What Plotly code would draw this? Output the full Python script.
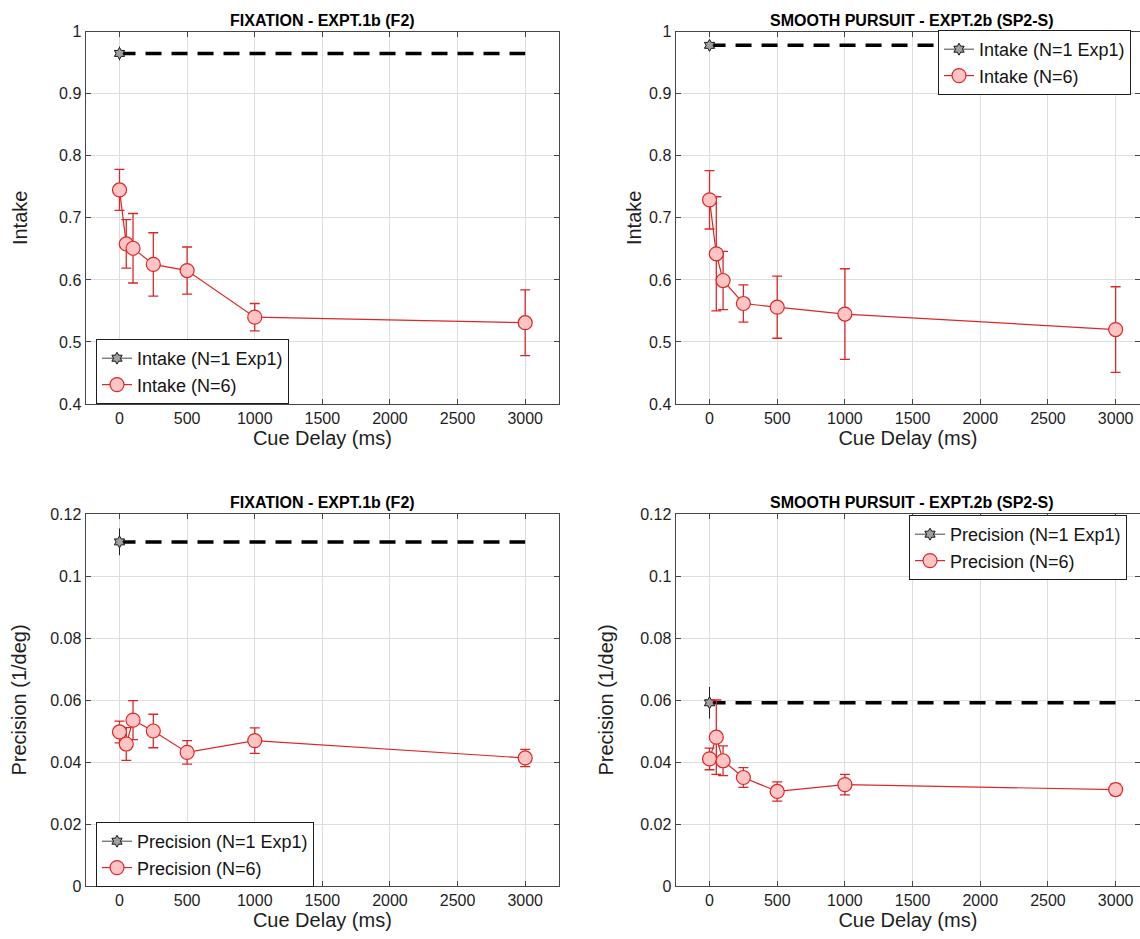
import plotly.graph_objects as go

W, H = 1140, 939

delays = [0, 50, 100, 250, 500, 1000, 3000]

# Intake - fixation
intake_fix = [0.745, 0.658, 0.651, 0.625, 0.615, 0.540, 0.531]
intake_fix_err = [0.033, 0.039, 0.056, 0.051, 0.038, 0.022, 0.053]
intake_fix_ref = 0.965
intake_fix_ref_err = 0.011

# Intake - smooth pursuit
intake_sp = [0.729, 0.642, 0.599, 0.562, 0.556, 0.545, 0.520]
intake_sp_err = [0.047, 0.092, 0.047, 0.030, 0.050, 0.073, 0.069]
intake_sp_ref = 0.978
intake_sp_ref_err = 0.005

# Precision - fixation
prec_fix = [0.0497, 0.0458, 0.0535, 0.0500, 0.0431, 0.0469, 0.0413]
prec_fix_err = [0.0035, 0.0053, 0.0063, 0.0054, 0.0038, 0.0041, 0.0028]
prec_fix_ref = 0.111
prec_fix_ref_err = 0.0043

# Precision - smooth pursuit
prec_sp = [0.0410, 0.0480, 0.0404, 0.0350, 0.0305, 0.0327, 0.0311]
prec_sp_err = [0.0035, 0.0120, 0.0048, 0.0032, 0.0031, 0.0033, 0.0018]
prec_sp_ref = 0.0591
prec_sp_ref_err = 0.0051

x_ticks = [0, 500, 1000, 1500, 2000, 2500, 3000]
x_ticktext = ["0", "500", "1000", "1500", "2000", "2500", "3000"]
intake_ticks = [0.4, 0.5, 0.6, 0.7, 0.8, 0.9, 1.0]
intake_ticktext = ["0.4", "0.5", "0.6", "0.7", "0.8", "0.9", "1"]
prec_ticks = [0, 0.02, 0.04, 0.06, 0.08, 0.1, 0.12]
prec_ticktext = ["0", "0.02", "0.04", "0.06", "0.08", "0.1", "0.12"]

titles = ["FIXATION - EXPT.1b (F2)", "SMOOTH PURSUIT - EXPT.2b (SP2-S)",
          "FIXATION - EXPT.1b (F2)", "SMOOTH PURSUIT - EXPT.2b (SP2-S)"]

RED = "rgb(222,38,38)"
PINK = "rgb(255,196,196)"
FONT = "Liberation Sans, Arial, sans-serif"

fig = go.Figure()

# pixel geometry
def fx(px):
    return px / W

def fy(py):
    return 1 - py / H

xdom_l = [fx(85.7), fx(559)]
xdom_r = [fx(675.7), 1.0]
ydom_t = [fy(404), fy(31.7)]
ydom_b = [fy(886), fy(514)]

panels = [
    dict(xa="x", ya="y", xdom=xdom_l, ydom=ydom_t, xr=[-250, 3250], yr=[0.4, 1.0],
         yt=intake_ticks, ytt=intake_ticktext, ytitle="Intake", ystand=26,
         data=intake_fix, err=intake_fix_err, ref=intake_fix_ref, referr=intake_fix_ref_err,
         name="Intake", leg="legend"),
    dict(xa="x2", ya="y2", xdom=xdom_r, ydom=ydom_t, xr=[-250, 3180], yr=[0.4, 1.0],
         yt=intake_ticks, ytt=intake_ticktext, ytitle="Intake", ystand=2,
         data=intake_sp, err=intake_sp_err, ref=intake_sp_ref, referr=intake_sp_ref_err,
         name="Intake", leg="legend2"),
    dict(xa="x3", ya="y3", xdom=xdom_l, ydom=ydom_b, xr=[-250, 3250], yr=[0, 0.12],
         yt=prec_ticks, ytt=prec_ticktext, ytitle="Precision (1/deg)", ystand=18,
         data=prec_fix, err=prec_fix_err, ref=prec_fix_ref, referr=prec_fix_ref_err,
         name="Precision", leg="legend3"),
    dict(xa="x4", ya="y4", xdom=xdom_r, ydom=ydom_b, xr=[-250, 3180], yr=[0, 0.12],
         yt=prec_ticks, ytt=prec_ticktext, ytitle="Precision (1/deg)", ystand=21,
         data=prec_sp, err=prec_sp_err, ref=prec_sp_ref, referr=prec_sp_ref_err,
         name="Precision", leg="legend4"),
]

layout = dict(
    width=W, height=H,
    margin=dict(l=0, r=0, t=0, b=0),
    paper_bgcolor="white", plot_bgcolor="white",
    font=dict(family=FONT, size=16, color="rgb(30,30,30)"),
    showlegend=True,
)

for i, p in enumerate(panels):
    # dashed reference line (no legend)
    fig.add_trace(go.Scatter(
        x=[delays[0], delays[-1]], y=[p["ref"], p["ref"]], mode="lines",
        line=dict(color="black", width=3.5, dash="16px,10px"),
        xaxis=p["xa"], yaxis=p["ya"], showlegend=False, hoverinfo="skip"))
    # N=1 reference point
    fig.add_trace(go.Scatter(
        x=[delays[0]], y=[p["ref"]], mode="lines+markers",
        name=f"{p['name']} (N=1 Exp1)",
        line=dict(color="rgb(70,70,70)", width=1),
        marker=dict(symbol="hexagram", size=9, color="rgb(160,160,160)",
                    line=dict(color="rgb(20,20,20)", width=1)),
        error_y=dict(type="data", array=[p["referr"]], color="rgb(30,30,30)",
                     thickness=1, width=0),
        xaxis=p["xa"], yaxis=p["ya"], legend=p["leg"]))
    # N=6 data
    fig.add_trace(go.Scatter(
        x=delays, y=p["data"], mode="lines+markers",
        name=f"{p['name']} (N=6)",
        line=dict(color=RED, width=1.2),
        marker=dict(symbol="circle", size=14, color=PINK,
                    line=dict(color=RED, width=1.2)),
        error_y=dict(type="data", array=p["err"], color=RED, thickness=1.3, width=5),
        xaxis=p["xa"], yaxis=p["ya"], legend=p["leg"]))

    axkey_x = "xaxis" if p["xa"] == "x" else "xaxis" + p["xa"][1:]
    axkey_y = "yaxis" if p["ya"] == "y" else "yaxis" + p["ya"][1:]
    common = dict(showline=True, linecolor="rgb(70,70,70)", linewidth=1.3,
                  mirror="ticks", ticks="inside", ticklen=5, tickcolor="rgb(70,70,70)",
                  showgrid=True, gridcolor="rgb(222,222,222)", gridwidth=1,
                  zeroline=False, automargin=False,
                  tickfont=dict(family=FONT, size=16, color="rgb(30,30,30)"))
    layout[axkey_x] = dict(common, domain=p["xdom"], range=p["xr"], anchor=p["ya"],
                           tickvals=x_ticks, ticktext=x_ticktext,
                           title=dict(text="Cue Delay (ms)", standoff=4,
                                      font=dict(family=FONT, size=20, color="rgb(30,30,30)")))
    layout[axkey_y] = dict(common, domain=p["ydom"], range=p["yr"], anchor=p["xa"],
                           tickvals=p["yt"], ticktext=p["ytt"],
                           title=dict(text=p["ytitle"], standoff=p["ystand"],
                                      font=dict(family=FONT, size=20, color="rgb(30,30,30)")))

# panel titles
annotations = []
for p, t in zip(panels, titles):
    x_center_px = (p["xdom"][0] * W + (559 if p["xdom"] == xdom_l else 1149)) / 2
    annotations.append(dict(
        text=f"<b>{t}</b>", xref="paper", yref="paper",
        x=x_center_px / W, y=p["ydom"][1], xanchor="center", yanchor="bottom",
        yshift=1, showarrow=False, font=dict(family=FONT, size=16, color="black")))
layout["annotations"] = annotations

legend_style = dict(bgcolor="white", bordercolor="rgb(30,30,30)", borderwidth=1,
                    font=dict(family=FONT, size=18, color="rgb(20,20,20)"),
                    xanchor="left", yanchor="top", tracegroupgap=0,
                    itemwidth=30)
layout["legend"] = dict(legend_style, x=fx(96), y=fy(339))
layout["legend2"] = dict(legend_style, x=fx(938), y=fy(30))
layout["legend3"] = dict(legend_style, x=fx(96), y=fy(822))
layout["legend4"] = dict(legend_style, x=fx(909), y=fy(515))

fig.update_layout(**layout)
fig.write_html("out.html")
